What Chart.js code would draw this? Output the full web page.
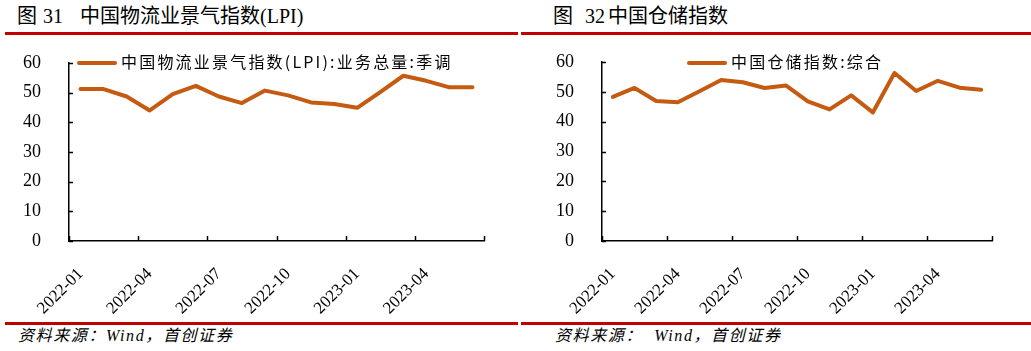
<!DOCTYPE html>
<html>
<head>
<meta charset="utf-8">
<script src="https://cdn.jsdelivr.net/npm/chart.js@4.4.0/dist/chart.umd.min.js"></script>
<style>
  body { margin: 0; width: 1031px; height: 351px; background: #fff; position: relative; overflow: hidden;
         font-family: "Liberation Serif", "Noto Sans CJK SC", serif; color: #000; }
  .t { position: absolute; top: 4px; font-size: 20px; line-height: 24px; white-space: nowrap; }
  .rule { position: absolute; height: 2.5px; background: #c00000; }
  .src { position: absolute; top: 326px; font-size: 16px; line-height: 20px; font-style: italic; letter-spacing: 1.6px;
         white-space: nowrap; }
  .leg { position: absolute; top: 51px; height: 20px; font-family: "Noto Sans CJK SC", sans-serif; font-size: 16px;
         line-height: 20px; letter-spacing: 2.2px; white-space: nowrap; }
  .leg i { display: inline-block; width: 40px; height: 4px; border-radius: 2px; background: #c55a11; vertical-align: middle;
           margin-right: 4px; position: relative; top: -1px; }
  canvas { position: absolute; top: 45px; }
</style>
</head>
<body>
<div class="t" style="left:17px">图</div>
<div class="t" style="left:43px">31</div>
<div class="t" style="left:80px">中国物流业景气指数(LPI)</div>
<div class="t" style="left:553px">图</div>
<div class="t" style="left:585px">32</div>
<div class="t" style="left:608px">中国仓储指数</div>
<div class="rule" style="left:5px;width:513px;top:32px"></div>
<div class="rule" style="left:521px;width:510px;top:32px"></div>

<canvas id="lpiChart" width="520" height="275" style="left:0"></canvas>
<canvas id="storageChart" width="511" height="275" style="left:520px"></canvas>

<div class="leg" style="left:77px"><i></i>中国物流业景气指数(LPI):业务总量:季调</div>
<div class="leg" style="left:687px"><i></i>中国仓储指数:综合</div>

<div class="rule" style="left:5px;width:513px;top:322px"></div>
<div class="rule" style="left:521px;width:510px;top:322px"></div>
<div class="src" style="left:18px">资料来源：Wind，首创证券</div>
<div class="src" style="left:555px">资料来源：&nbsp;&nbsp;Wind，首创证券</div>

<script>
const months = ['2022-01', '2022-02', '2022-03', '2022-04', '2022-05', '2022-06',
                '2022-07', '2022-08', '2022-09', '2022-10', '2022-11', '2022-12',
                '2023-01', '2023-02', '2023-03', '2023-04', '2023-05', '2023-06'];
const lpiVolume = [51.2, 51.2, 48.7, 44.0, 49.5, 52.3, 48.7, 46.5, 50.7, 49.1,
                   46.7, 46.2, 44.9, 50.2, 55.7, 54.0, 51.8, 51.8];
const storageIndex = [48.3, 51.3, 46.9, 46.5, 50.2, 54.0, 53.2, 51.3, 52.1, 46.8,
                      44.1, 48.8, 43.1, 56.3, 50.3, 53.7, 51.4, 50.7];
const yMin = 0, yMax = 60, yStep = 10;
const tickEvery = 3;

const lineColor = '#c55a11';
const serif = "'Liberation Serif', 'Times New Roman', serif";

Chart.defaults.font.family = serif;

// ticks point inward, Chart.js only draws them outward
const innerTicks = {
    id: 'innerTicks',
    afterDraw(chart) {
        const { ctx, chartArea: a } = chart;
        const x = chart.scales.x, y = chart.scales.y;
        ctx.save();
        ctx.strokeStyle = '#000';
        ctx.lineWidth = 1.5;
        ctx.beginPath();
        y.ticks.forEach(t => {
            const py = Math.round(y.getPixelForValue(t.value)) + 0.5;
            ctx.moveTo(a.left, py);
            ctx.lineTo(a.left + 4, py);
        });
        for (let i = 0; i <= months.length; i += tickEvery) {
            const px = Math.round(x.getPixelForValue(i - 0.5)) + 0.5;
            ctx.moveTo(px, a.bottom);
            ctx.lineTo(px, a.bottom - 5);
        }
        ctx.stroke();
        ctx.restore();
    }
};

function makeChart(id, values, pad, yWidth) {
    return new Chart(document.getElementById(id), {
        type: 'line',
        data: {
            labels: months,
            datasets: [{
                data: values,
                borderColor: lineColor,
                borderWidth: 4,
                pointRadius: 0,
                tension: 0,
                borderCapStyle: 'round',
                borderJoinStyle: 'round'
            }]
        },
        options: {
            responsive: false,
            animation: false,
            layout: { padding: pad, autoPadding: false },
            plugins: { legend: { display: false }, tooltip: { enabled: false } },
            scales: {
                x: {
                    offset: true,
                    grid: { display: false },
                    border: { display: true, color: '#000', width: 1.5 },
                    ticks: {
                        autoSkip: false,
                        maxRotation: 45,
                        minRotation: 45,
                        padding: 15,
                        color: '#000',
                        font: { family: serif, size: 17 },
                        callback: (v, i) => (i % tickEvery === 0 ? months[i] : '')
                    },
                    afterFit: s => { s.height = 79; s.paddingLeft = 0; s.paddingRight = 0; }
                },
                y: {
                    min: yMin,
                    max: yMax,
                    grid: { display: false },
                    border: { display: true, color: '#000', width: 1.5 },
                    ticks: {
                        stepSize: yStep,
                        padding: 20,
                        color: '#000',
                        font: { family: serif, size: 18 }
                    },
                    // tick padding would otherwise push the plot area down
                    afterFit: s => { s.width = yWidth; s.paddingTop = 0; s.paddingBottom = 0; }
                }
            }
        },
        plugins: [innerTicks]
    });
}

function drawAll() {
    makeChart('lpiChart', lpiVolume, { top: 18, right: 36, left: 0, bottom: 0 }, 69);
    makeChart('storageChart', storageIndex, { top: 17, right: 39, left: 0, bottom: 0 }, 82);
}

if (document.fonts && document.fonts.load) {
    document.fonts.load("16px 'Liberation Serif'").then(drawAll, drawAll);
} else {
    drawAll();
}
</script>
</body>
</html>
